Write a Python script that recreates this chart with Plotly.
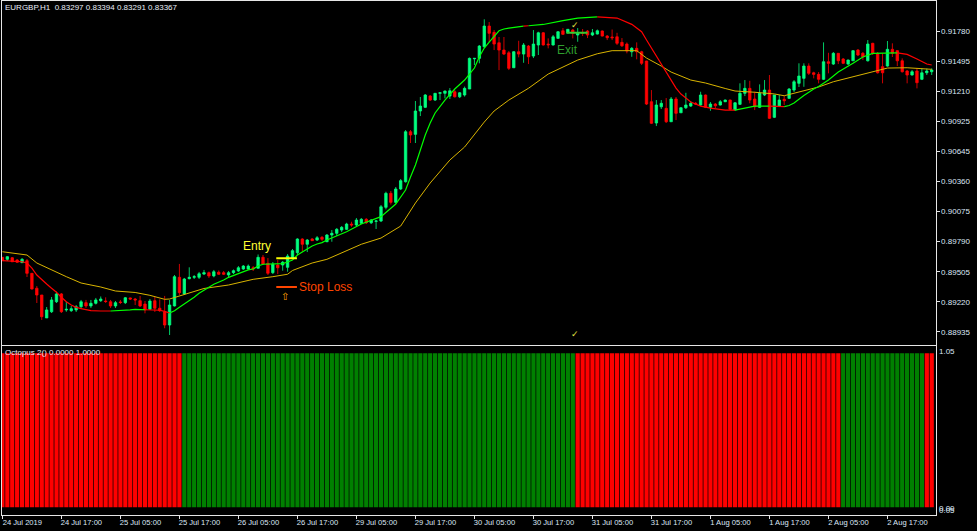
import plotly.graph_objects as go

# ---- values, in 1/100000 price units ----
opens = [
89630,89611,89626,89604,89579,89598,89478,89336,89272,89054,
89113,89208,89282,89130,89123,89130,89161,89199,89168,89193,
89218,89215,89208,89168,89206,89199,89244,89234,89218,89186,
89136,89218,89146,89113,88987,89168,89440,89282,89427,89440,
89440,89471,89484,89453,89488,89484,89462,89484,89500,89519,
89519,89531,89526,89630,89573,89484,89557,89557,89535,89621,
89674,89804,89754,89804,89794,89820,89778,89842,89858,89889,
89896,89946,89937,89953,89991,89958,89972,89975,90105,90238,
90152,90279,90348,90823,90798,91020,91055,91162,91124,91188,
91188,91162,91203,91155,91172,91229,91516,91520,91630,91827,
91767,91668,91599,91573,91431,91583,91561,91637,91542,91647,
91763,91656,91647,91710,91782,91763,91789,91742,91767,91780,
91742,91751,91780,91732,91723,91725,91672,91656,91583,91615,
91583,91495,91108,90906,91060,91045,90918,91134,91003,91051,
91067,91093,91077,91172,91055,91086,91077,91108,91124,91029,
91083,91188,91235,91134,91055,91172,91219,90960,91067,91131,
91140,91219,91283,91330,91447,91383,91368,91321,91488,91466,
91568,91514,91466,91497,91599,91568,91497,91663,91568,91441,
91447,91606,91593,91497,91400,91362,91400,91321,91383,91393]
closes = [
89598,89636,89588,89583,89611,89478,89329,89272,89066,89130,
89225,89282,89113,89136,89142,89161,89208,89168,89193,89225,
89234,89210,89168,89199,89201,89246,89234,89225,89168,89130,
89215,89146,89123,88987,89177,89446,89294,89424,89440,89446,
89474,89484,89453,89493,89469,89469,89484,89503,89531,89547,
89547,89519,89630,89567,89478,89564,89531,89583,89642,89693,
89804,89754,89794,89788,89816,89801,89842,89858,89896,89915,
89946,89937,89984,89991,89958,89984,89975,90110,90238,90152,
90279,90358,90823,90792,91020,91067,91172,91124,91188,91193,
91210,91212,91155,91193,91235,91520,91520,91637,91827,91758,
91656,91599,91561,91425,91583,91561,91647,91535,91656,91763,
91647,91649,91725,91773,91748,91796,91758,91758,91758,91742,
91763,91782,91732,91716,91716,91663,91640,91590,91615,91583,
91473,91086,90903,91077,91093,90918,91134,90998,91051,91077,
91093,91086,91172,91055,91086,91070,91108,91124,91036,91098,
91188,91235,91124,91060,91188,91219,90950,91172,91124,91117,
91229,91298,91352,91447,91378,91368,91321,91488,91473,91568,
91497,91473,91504,91593,91552,91535,91656,91568,91383,91383,
91606,91568,91497,91393,91362,91393,91289,91383,91400,91409]
highs = [
89633,89642,89633,89614,89623,89614,89481,89357,89272,89158,
89253,89303,89291,89208,89168,89177,89225,89225,89225,89244,
89258,89250,89225,89215,89225,89253,89248,89244,89263,89215,
89234,89256,89231,89263,89225,89462,89567,89434,89535,89462,
89491,89510,89495,89510,89505,89500,89500,89514,89547,89557,
89562,89547,89657,89652,89623,89585,89604,89595,89661,89709,
89811,89811,89804,89813,89832,89832,89851,89889,89908,89927,
89958,89968,90003,90003,90003,89994,89984,90127,90253,90260,
90298,90374,90839,90839,91115,91153,91181,91172,91191,91195,
91214,91238,91219,91200,91252,91528,91520,91647,91891,91865,
91789,91723,91723,91590,91590,91687,91666,91647,91789,91773,
91770,91710,91742,91780,91808,91799,91799,91808,91799,91789,
91799,91794,91785,91742,91794,91763,91713,91671,91628,91672,
91592,91497,91219,91124,91124,91143,91153,91153,91058,91193,
91115,91105,91203,91176,91105,91096,91124,91129,91129,91105,
91283,91314,91307,91203,91273,91314,91362,91172,91172,91162,
91238,91314,91473,91473,91473,91393,91390,91672,91573,91580,
91571,91523,91509,91599,91609,91580,91694,91668,91580,91568,
91685,91663,91599,91520,91409,91409,91428,91425,91423,91425]
lows = [
89595,89595,89585,89576,89576,89443,89324,89196,89035,89054,
89101,89196,89101,89113,89111,89111,89139,89149,89149,89182,
89206,89196,89149,89149,89186,89186,89225,89177,89158,89098,
89130,89111,89111,88956,88892,89163,89272,89272,89421,89424,
89424,89462,89434,89440,89462,89462,89443,89471,89491,89510,
89510,89500,89524,89557,89462,89471,89471,89503,89493,89614,
89652,89683,89680,89785,89785,89785,89775,89778,89832,89870,
89889,89920,89920,89946,89946,89946,89899,89965,90086,90131,
90141,90269,90340,90716,90716,90972,91048,91115,91115,91124,
91140,91134,91148,91143,91157,91229,91457,91473,91623,91675,
91599,91409,91552,91409,91428,91530,91478,91466,91523,91552,
91642,91615,91642,91706,91742,91756,91710,91678,91732,91713,
91732,91747,91728,91694,91694,91647,91628,91568,91535,91511,
91457,91077,90896,90877,91039,90906,90918,90934,91001,91039,
91058,91077,91067,91048,91022,91048,91072,91105,91029,91025,
91077,91162,91093,91029,91048,91162,90944,90953,91058,91077,
91134,91200,91248,91250,91362,91330,91283,91314,91378,91457,
91466,91466,91457,91495,91542,91504,91490,91552,91376,91283,
91441,91533,91447,91385,91283,91357,91235,91314,91362,91362]

# fast moving average: bar index, value
fast_bar = [0,4,5,6,7,8,9,10,11,12,13,14,15,16,17,18,20,22,24,26,27,29,31,32,33,34,35,36,37,38,39,40,41,42,43,44,45,46,47,48,49,50,51,52,53,56,57,58,59,60,61,62,63,64,65,66,67,68,70,73,77,80,82,83,84,85,86,87,88,90,92,94,96,97,98,99,100,101,102,103,106,107,110,114,117,121,125,128,130,131,132,133,134,135,136,137,138,140,142,144,147,149,151,153,156,159,160,161,162,163,165,166,168,170,173,175,177,182,184,186,188,189]
fast_val = [89598,89588,89576,89528,89462,89414,89376,89336,89298,89250,89208,89177,89155,89142,89130,89123,89120,89120,89123,89130,89136,89132,89132,89127,89117,89101,89123,89155,89186,89215,89250,89288,89320,89345,89374,89393,89414,89440,89459,89478,89493,89510,89519,89547,89564,89569,89571,89585,89604,89652,89683,89712,89737,89756,89770,89794,89813,89837,89873,89946,90016,90136,90269,90393,90507,90650,90792,90906,91001,91124,91229,91314,91428,91536,91618,91675,91725,91782,91799,91808,91827,91830,91842,91878,91903,91915,91903,91843,91773,91694,91618,91533,91457,91381,91305,91238,91181,91105,91067,91048,91029,91029,91048,91067,91067,91061,91072,91096,91134,91167,91229,91252,91314,91390,91473,91533,91568,91573,91558,91514,91466,91457]
fast_colour_runs = [(0,22,"#FF0000"),(22,29,"#00FF00"),(29,34,"#FF0000"),(34,106,"#00FF00"),(106,107,"#FF0000"),(107,121,"#00FF00"),(121,149,"#FF0000"),(149,156,"#00FF00"),(156,159,"#FF0000"),(159,182,"#00FF00"),(182,189,"#FF0000")]

# slow moving average: bar index, value
slow_bar = [0,5,7,10,13,16,20,23,27,30,33,34,37,41,46,51,55,58,59,63,66,70,73,77,81,84,87,91,94,98,100,103,107,111,114,117,121,124,129,131,134,136,140,143,147,149,153,157,159,162,166,169,173,177,180,184,189]
slow_val = [89683,89652,89576,89510,89446,89386,89348,89310,89296,89269,89231,89234,89277,89334,89367,89421,89446,89469,89505,89576,89611,89690,89754,89813,89927,90146,90336,90554,90678,90915,91020,91124,91236,91371,91441,91504,91564,91593,91593,91523,91447,91390,91314,91286,91234,91210,91198,91182,91165,91203,91248,91298,91346,91393,91428,91431,91416]

# oscillator: colour runs over the 190 bars, every bar has value 1
osc_runs = [("#FF0000",37),("#008000",80),("#FF0000",54),("#008000",17),("#FF0000",2)]

tick_bars = [0,12,24,36,48,60,72,84,96,108,120,132,144,156,168,180]
tick_labels = ["24 Jul 2019","24 Jul 17:00","25 Jul 05:00","25 Jul 17:00","26 Jul 05:00","26 Jul 17:00","29 Jul 05:00","29 Jul 17:00","30 Jul 05:00","30 Jul 17:00","31 Jul 05:00","31 Jul 17:00","1 Aug 05:00","1 Aug 17:00","2 Aug 05:00","2 Aug 17:00"]
price_ticks = [0.91780,0.91495,0.91210,0.90925,0.90645,0.90360,0.90075,0.89790,0.89505,0.89220,0.88935]

# annotated trade levels: bar span, value
entry_span, entry_level = [55.7,59.9], 89621
stop_span, stop_level = [55.7,59.9], 89348
exit_span, exit_level = [114.7,119], 91764

# ---- helpers ----
W, H = 977, 531
CAL = 9.452 / 9.5   # my read-offs used 9.5 units per pixel; the printed scale gives 9.452
def price(v):
    return (91780 + (v - 91780) * CAL) / 100000
def P(seq):
    return [price(v) for v in seq]
bars = list(range(len(opens)))
FONT = "Liberation Sans"
LBL = "#DCE6F5"

fig = go.Figure()
fig.add_trace(go.Candlestick(
    x=bars, open=P(opens), high=P(highs), low=P(lows), close=P(closes),
    increasing=dict(line=dict(color="#00FF7F", width=0.8), fillcolor="#00FF7F"),
    decreasing=dict(line=dict(color="#FF0000", width=0.8), fillcolor="#FF0000"),
    whiskerwidth=0, showlegend=False, hoverinfo="skip", xaxis="x", yaxis="y"))

fig.add_trace(go.Scatter(x=slow_bar, y=P(slow_val), mode="lines",
    line=dict(color="#D9B400", width=1), showlegend=False, hoverinfo="skip"))
for a, b, col in fast_colour_runs:
    xs = [i for i in fast_bar if a <= i <= b]
    ys = [v for i, v in zip(fast_bar, fast_val) if a <= i <= b]
    fig.add_trace(go.Scatter(x=xs, y=P(ys), mode="lines",
        line=dict(color=col, width=1.2), showlegend=False, hoverinfo="skip"))

for span, lev, col in [(entry_span, entry_level, "#FFFF00"), (stop_span, stop_level, "#FF4500"), (exit_span, exit_level, "#32CD32")]:
    fig.add_trace(go.Scatter(x=span, y=P([lev, lev]), mode="lines",
        line=dict(color=col, width=2), showlegend=False, hoverinfo="skip"))

osc_colours = []
for col, n in osc_runs:
    osc_colours += [col] * n
fig.add_trace(go.Bar(x=bars, y=[1] * len(bars), marker=dict(color=osc_colours, line=dict(width=0)),
    width=0.86, showlegend=False, hoverinfo="skip", xaxis="x2", yaxis="y2"))

def paper_note(px, py, text, size=8, col=LBL):
    fig.add_annotation(xref="paper", yref="paper", x=px / W, y=1 - py / H, text=text, showarrow=False,
        xanchor="left", yanchor="middle", borderpad=0, font=dict(family=FONT, size=size, color=col))
def data_note(bar, val, text, col, size=12, family=FONT, anchor="left"):
    fig.add_annotation(xref="x", yref="y", x=bar, y=price(val), text=text, showarrow=False,
        xanchor=anchor, yanchor="middle", borderpad=0, font=dict(family=family, size=size, color=col))

paper_note(3.5, 7.5, "EURGBP,H1&nbsp;&nbsp;0.83297 0.83394 0.83291 0.83367", 8, "#E8EEF8")
paper_note(3.5, 352, "Octopus 2() 0.0000 1.0000", 8, "#E8EEF8")
paper_note(937.5, 351, "1.05")
paper_note(937.5, 508, "0.00")
paper_note(937.5, 510, "0.05")

data_note(48.7, 89737, "Entry", "#FFFF33")
data_note(60.1, 89348, "Stop Loss", "#FF4500")
data_note(112.5, 91599, "Exit", "#2E9E2E")
data_note(57.5, 89256, "⇧", "#FFA500", 10, "DejaVu Sans", "center")
data_note(116.5, 91837, "✓", "#E0E040", 9, "DejaVu Sans", "center")
data_note(116.5, 88901, "✓", "#E0E040", 9, "DejaVu Sans", "center")

x_left, x_right = 1.5, 935.5
x_origin = 2.4
x_range = [(x_left - x_origin) / 4.917, (x_right - x_origin) / 4.917]
main_top, main_bot = 1, 344.5
sub_top, sub_bot = 344.5, 514.5
white = "#E6E6E6"

fig.update_layout(
    width=W, height=H, margin=dict(l=0, r=0, t=0, b=0, pad=0),
    paper_bgcolor="#000000", plot_bgcolor="#000000", showlegend=False,
    barmode="overlay", font=dict(family=FONT, size=8, color=LBL),
    xaxis=dict(domain=[x_left / W, x_right / W], range=x_range, anchor="y",
        showgrid=False, zeroline=False, showticklabels=False, ticks="",
        showline=True, linecolor=white, linewidth=1, mirror=True,
        rangeslider=dict(visible=False)),
    yaxis=dict(domain=[1 - main_bot / H, 1 - main_top / H], anchor="x", side="right",
        range=[(91780 - (main_bot - 31) * 9.452) / 100000, (91780 + (31 - main_top) * 9.452) / 100000],
        tickmode="array", tickvals=price_ticks, ticktext=[f"{v:.5f}" for v in price_ticks],
        ticks="outside", ticklen=3, tickcolor=white, tickfont=dict(family=FONT, size=8, color=LBL),
        showgrid=False, zeroline=False, showline=True, linecolor=white, linewidth=1, mirror=True),
    xaxis2=dict(domain=[x_left / W, x_right / W], range=x_range, anchor="y2",
        tickmode="array", tickvals=tick_bars, ticktext=tick_labels,
        ticks="outside", ticklen=3, tickcolor=white, tickangle=0, ticklabelshift=20, ticklabelstandoff=-3,
        tickfont=dict(family=FONT, size=7.6, color=LBL),
        showgrid=False, zeroline=False, showline=True, linecolor=white, linewidth=1),
    yaxis2=dict(domain=[1 - sub_bot / H, 1 - sub_top / H], anchor="x2", side="right",
        range=[(507.3 - sub_bot) / 154, (507.3 - sub_top) / 154],
        showticklabels=False, ticks="", showgrid=False, zeroline=False,
        showline=True, linecolor=white, linewidth=1, mirror=True),
)

fig.write_html("out.html", config={"displayModeBar": False},
               post_script="document.body.style.margin='0';document.documentElement.style.overflow='hidden';")
